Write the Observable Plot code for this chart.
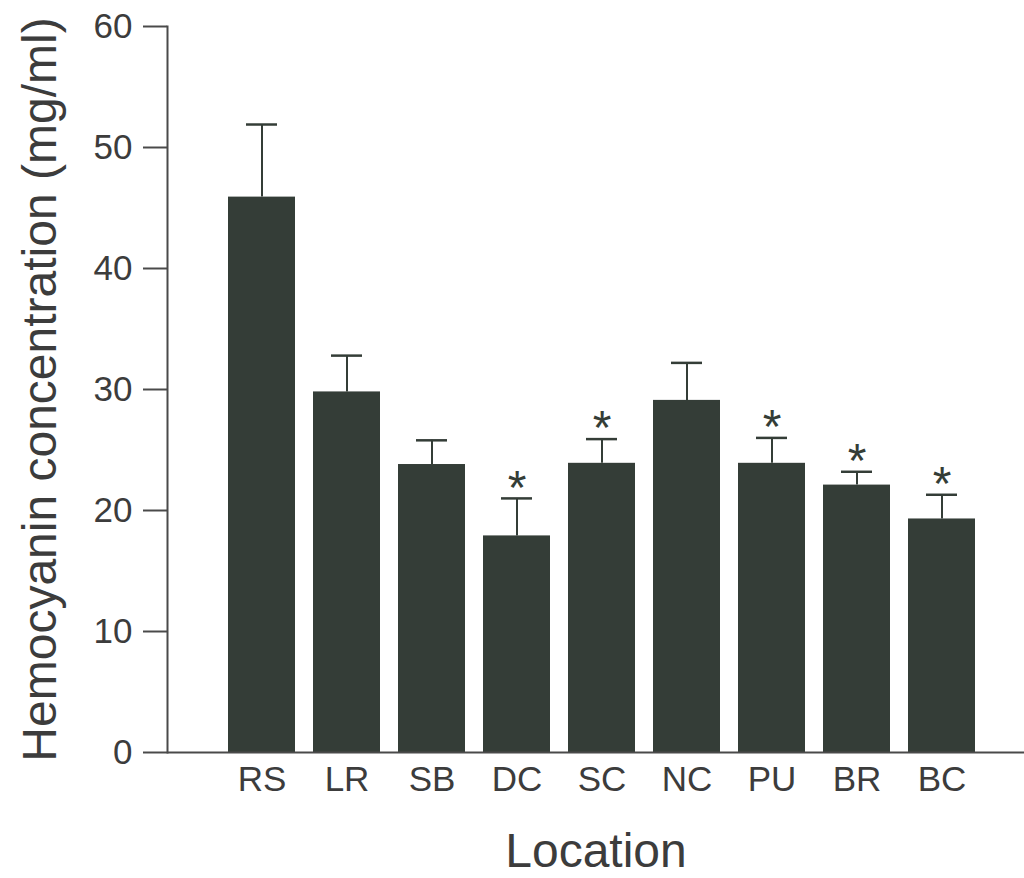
<!DOCTYPE html>
<html>
<head>
<meta charset="utf-8">
<script src="https://cdn.jsdelivr.net/npm/d3@7"></script>
<script src="https://cdn.jsdelivr.net/npm/@observablehq/plot@0.6"></script>
<style>
  html, body { margin: 0; padding: 0; background: #ffffff; }
  #chart svg { display: block; }
</style>
</head>
<body>
<div id="chart"></div>
<script>
const locations = ["RS", "LR", "SB", "DC", "SC", "NC", "PU", "BR", "BC"];
const means = [45.9, 29.8, 23.8, 17.9, 23.9, 29.1, 23.9, 22.1, 19.3];
const errors = [6.0, 3.0, 2.0, 3.1, 2.0, 3.1, 2.1, 1.1, 2.0];
const significant = [false, false, false, true, true, false, true, true, true];
const yTicks = [0, 10, 20, 30, 40, 50, 60];

const data = locations.map((loc, i) => ({
  loc,
  mean: means[i],
  upper: means[i] + errors[i],
  sig: significant[i]
}));

const barColor = "#343d37";
const inkColor = "#3c3c3c";
const axisColor = "#4a4a4a";

const plot = Plot.plot({
  width: 1024,
  height: 878,
  marginTop: 26,
  marginBottom: 126,
  marginLeft: 167,
  marginRight: 0,
  style: { fontFamily: "'Liberation Sans', Arial, sans-serif", color: inkColor, background: "#ffffff" },
  x: { domain: locations, range: [219, 985], paddingInner: 0.21, paddingOuter: 0.105 },
  y: { domain: [0, 60] },
  marks: [
    Plot.barY(data, { x: "loc", y: "mean", fill: barColor }),
    Plot.ruleX(data, { x: "loc", y1: "mean", y2: "upper", stroke: barColor, strokeWidth: 2 }),
    Plot.tickY(data, { x: "loc", y: "upper", stroke: barColor, strokeWidth: 2.5, insetLeft: 18, insetRight: 18 }),
    Plot.text(data.filter(d => d.sig), { x: "loc", y: "upper", text: () => "*", fontSize: 48, fill: barColor, dy: -10 }),
    Plot.frame({ anchor: "left", stroke: axisColor, strokeWidth: 2 }),
    Plot.ruleY([0], { stroke: axisColor, strokeWidth: 2 }),
    Plot.axisY({ ticks: yTicks, tickSize: 24, tickPadding: 11, fontSize: 35, label: null, stroke: axisColor, strokeWidth: 2, fill: inkColor }),
    Plot.axisX({ tickSize: 0, tickPadding: 14, fontSize: 35, label: null, fill: inkColor }),
    Plot.text(["Hemocyanin concentration (mg/ml)"], { frameAnchor: "left", textAnchor: "middle", rotate: -90, dx: -127, fontSize: 48, fill: inkColor }),
    Plot.text(["Location"], { frameAnchor: "bottom", dy: 114, fontSize: 48, fill: inkColor })
  ]
});

document.getElementById("chart").appendChild(plot);
</script>
</body>
</html>
